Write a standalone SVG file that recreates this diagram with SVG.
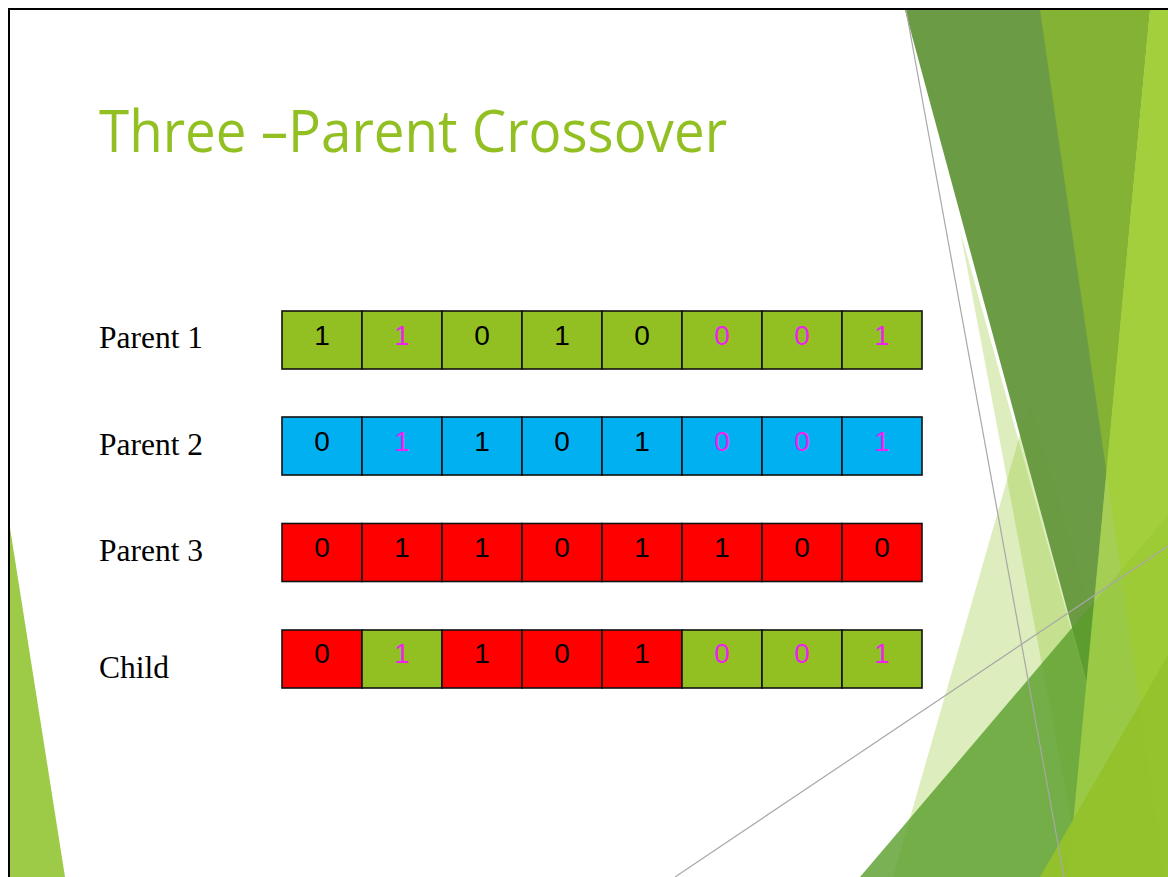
<svg xmlns="http://www.w3.org/2000/svg" width="1168" height="877" viewBox="0 0 1168 877">
<style>
.cell{stroke:#111;stroke-width:1.6}
.g{fill:#92C022}.b{fill:#00B0F0}.r{fill:#FF0000}
.d{font-family:"Liberation Sans",Arial,sans-serif;font-size:28px;text-anchor:middle}
.k{fill:#000}.m{fill:#F020F0}
.lbl{font-family:"Liberation Serif","Times New Roman",serif;font-size:31.5px;fill:#000}
.title{font-family:"Open Sans","DejaVu Sans",sans-serif;font-size:58px;fill:#92C022}
.gl{stroke:#A8A8A8;stroke-width:1.2;fill:none}
</style>
<rect width="1168" height="877" fill="#FFFFFF"/>
<g id="decor">
  <polygon points="1030,400 893,877 1168,877" fill="#90C226" fill-opacity="0.3"/>
  <polygon points="960,230 1082,877 1140,877" fill="#90C226" fill-opacity="0.3"/>
  <polygon points="905,10 1150,10 1087,683" fill="#5F9236" fill-opacity="0.92"/>
  <polygon points="860,877 1168,515 1168,877" fill="#5A9E2A" fill-opacity="0.8"/>
  <polygon points="1150,10 1168,10 1168,877 1068,877" fill="#9CCB45" fill-opacity="0.92"/>
  <polygon points="1040,10 1168,10 1168,900" fill="#A2CF22" fill-opacity="0.45"/>
  <polygon points="1040,877 1168,655 1168,877" fill="#93C22B" fill-opacity="0.95"/>
  <line class="gl" x1="906" y1="10" x2="1064" y2="877"/>
  <line class="gl" x1="675" y1="877" x2="1168" y2="546"/>
  <polygon points="10,528 65,877 10,877" fill="#9DCA47"/>
</g>
<path d="M9,877 V9 H1168" fill="none" stroke="#000" stroke-width="2"/>
<g id="title"><text class="title" x="99" y="152" textLength="628" lengthAdjust="spacingAndGlyphs">Three –Parent Crossover</text></g>
<g id="labels">
  <text id="lbl-p1" class="lbl" x="99" y="348">Parent 1</text>
  <text id="lbl-p2" class="lbl" x="99" y="455">Parent 2</text>
  <text id="lbl-p3" class="lbl" x="99" y="561">Parent 3</text>
  <text id="lbl-child" class="lbl" x="99" y="678">Child</text>
</g>
<g id="parent1">
  <rect class="cell g" x="282" y="311" width="80" height="58"/><rect class="cell g" x="362" y="311" width="80" height="58"/><rect class="cell g" x="442" y="311" width="80" height="58"/><rect class="cell g" x="522" y="311" width="80" height="58"/><rect class="cell g" x="602" y="311" width="80" height="58"/><rect class="cell g" x="682" y="311" width="80" height="58"/><rect class="cell g" x="762" y="311" width="80" height="58"/><rect class="cell g" x="842" y="311" width="80" height="58"/>
  <text class="d k" x="322" y="345">1</text><text class="d m" x="402" y="345">1</text><text class="d k" x="482" y="345">0</text><text class="d k" x="562" y="345">1</text><text class="d k" x="642" y="345">0</text><text class="d m" x="722" y="345">0</text><text class="d m" x="802" y="345">0</text><text class="d m" x="882" y="345">1</text>
</g>
<g id="parent2">
  <rect class="cell b" x="282" y="417" width="80" height="58"/><rect class="cell b" x="362" y="417" width="80" height="58"/><rect class="cell b" x="442" y="417" width="80" height="58"/><rect class="cell b" x="522" y="417" width="80" height="58"/><rect class="cell b" x="602" y="417" width="80" height="58"/><rect class="cell b" x="682" y="417" width="80" height="58"/><rect class="cell b" x="762" y="417" width="80" height="58"/><rect class="cell b" x="842" y="417" width="80" height="58"/>
  <text class="d k" x="322" y="451">0</text><text class="d m" x="402" y="451">1</text><text class="d k" x="482" y="451">1</text><text class="d k" x="562" y="451">0</text><text class="d k" x="642" y="451">1</text><text class="d m" x="722" y="451">0</text><text class="d m" x="802" y="451">0</text><text class="d m" x="882" y="451">1</text>
</g>
<g id="parent3">
  <rect class="cell r" x="282" y="523.5" width="80" height="58"/><rect class="cell r" x="362" y="523.5" width="80" height="58"/><rect class="cell r" x="442" y="523.5" width="80" height="58"/><rect class="cell r" x="522" y="523.5" width="80" height="58"/><rect class="cell r" x="602" y="523.5" width="80" height="58"/><rect class="cell r" x="682" y="523.5" width="80" height="58"/><rect class="cell r" x="762" y="523.5" width="80" height="58"/><rect class="cell r" x="842" y="523.5" width="80" height="58"/>
  <text class="d k" x="322" y="557">0</text><text class="d k" x="402" y="557">1</text><text class="d k" x="482" y="557">1</text><text class="d k" x="562" y="557">0</text><text class="d k" x="642" y="557">1</text><text class="d k" x="722" y="557">1</text><text class="d k" x="802" y="557">0</text><text class="d k" x="882" y="557">0</text>
</g>
<g id="child">
  <rect class="cell r" x="282" y="630" width="80" height="58"/><rect class="cell g" x="362" y="630" width="80" height="58"/><rect class="cell r" x="442" y="630" width="80" height="58"/><rect class="cell r" x="522" y="630" width="80" height="58"/><rect class="cell r" x="602" y="630" width="80" height="58"/><rect class="cell g" x="682" y="630" width="80" height="58"/><rect class="cell g" x="762" y="630" width="80" height="58"/><rect class="cell g" x="842" y="630" width="80" height="58"/>
  <text class="d k" x="322" y="663">0</text><text class="d m" x="402" y="663">1</text><text class="d k" x="482" y="663">1</text><text class="d k" x="562" y="663">0</text><text class="d k" x="642" y="663">1</text><text class="d m" x="722" y="663">0</text><text class="d m" x="802" y="663">0</text><text class="d m" x="882" y="663">1</text>
</g>
<g id="connectors"/>
</svg>
